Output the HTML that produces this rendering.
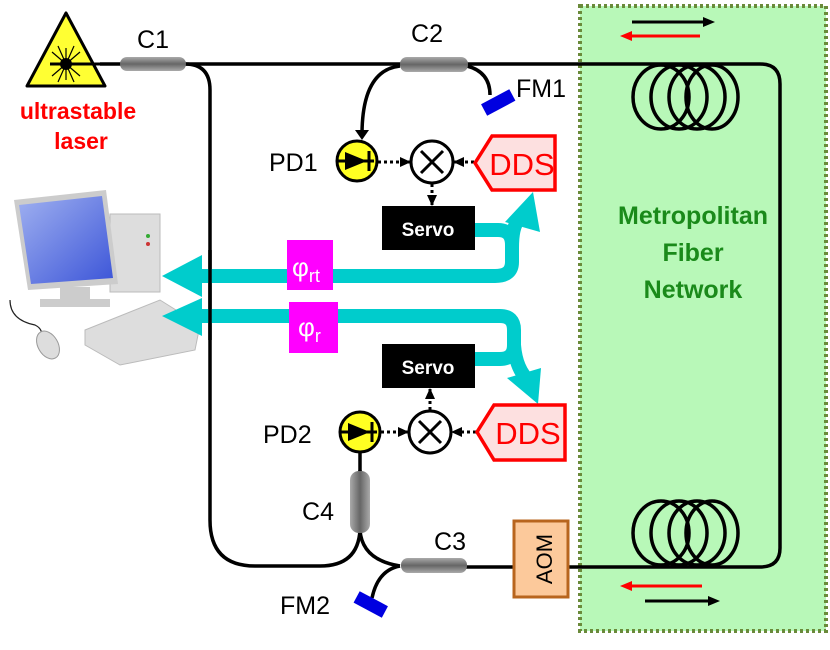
<!DOCTYPE html>
<html><head><style>body{margin:0;background:#fff}svg{display:block}text{font-family:"Liberation Sans",Arial,sans-serif}</style></head><body>
<svg width="830" height="650" viewBox="0 0 830 650" xmlns="http://www.w3.org/2000/svg">
<defs>
<linearGradient id="cg" x1="0" y1="0" x2="0" y2="1"><stop offset="0" stop-color="#aaa"/><stop offset=".5" stop-color="#666"/><stop offset="1" stop-color="#aaa"/></linearGradient>
<linearGradient id="cgv" x1="0" y1="0" x2="1" y2="0"><stop offset="0" stop-color="#aaa"/><stop offset=".5" stop-color="#666"/><stop offset="1" stop-color="#aaa"/></linearGradient>
<linearGradient id="scr" x1="0" y1="0" x2="1" y2="1"><stop offset="0" stop-color="#9fb0f0"/><stop offset="1" stop-color="#3c55d8"/></linearGradient>
<marker id="ah" markerUnits="userSpaceOnUse" markerWidth="12" markerHeight="12" refX="10" refY="6" orient="auto"><path d="M0,1L11,6L0,11z" fill="#000"/></marker>
</defs>
<rect x="580" y="6" width="246" height="625" fill="#b8f8b8" stroke="#6a8a3a" stroke-width="4" stroke-dasharray="3,3"/>
<text x="693" y="224" font-size="25" font-weight="bold" fill="#1a8a1a" text-anchor="middle">Metropolitan</text>
<text x="693" y="261" font-size="25" font-weight="bold" fill="#1a8a1a" text-anchor="middle">Fiber</text>
<text x="693" y="298" font-size="25" font-weight="bold" fill="#1a8a1a" text-anchor="middle">Network</text>
<g fill="none" stroke="#000" stroke-width="3.5">
<path d="M100,64 H760 Q780,64 780,84 V548 Q780,567 760,567 H460"/>
<path d="M185,64 Q210,64 210,90 V520 Q210,566 255,566 H320 Q358,566 360,530 V470"/>
<path d="M360,530 Q362,560 400,566"/>
<path d="M400,566 Q378,570 372,598"/>
<path d="M400,66 Q362,70 362,135" />
<path d="M467,66 Q490,72 490,95"/>
<ellipse cx="661" cy="97" rx="28" ry="32"/><ellipse cx="679" cy="97" rx="28" ry="32"/><ellipse cx="697" cy="97" rx="28" ry="32"/><ellipse cx="712" cy="97" rx="26" ry="32"/>
<ellipse cx="661" cy="533" rx="28" ry="32"/><ellipse cx="679" cy="533" rx="28" ry="32"/><ellipse cx="697" cy="533" rx="28" ry="32"/><ellipse cx="712" cy="533" rx="26" ry="32"/>
<path d="M360,452 V472"/>
</g>
<path d="M362,140 l-7,-10 h14z" fill="#000"/>
<g stroke-width="3"><line x1="632" y1="22" x2="705" y2="22" stroke="#000"/><path d="M703,17 L715,22 L703,27z"/>
<line x1="630" y1="36" x2="700" y2="36" stroke="#f00"/><path d="M632,31 L620,36 L632,41z" fill="#f00"/>
<line x1="630" y1="586" x2="702" y2="586" stroke="#f00"/><path d="M632,581 L620,586 L632,591z" fill="#f00"/>
<line x1="645" y1="601" x2="710" y2="601" stroke="#000"/><path d="M708,596 L720,601 L708,606z"/></g>
<rect x="120" y="57" width="66" height="14" rx="7" fill="url(#cg)"/>
<rect x="400" y="57" width="68" height="15" rx="7" fill="url(#cg)"/>
<rect x="401" y="558" width="66" height="15" rx="7" fill="url(#cg)"/>
<rect x="350" y="471" width="20" height="62" rx="9" fill="url(#cgv)"/>
<text x="153" y="48" font-size="25" text-anchor="middle">C1</text>
<text x="427" y="42" font-size="25" text-anchor="middle">C2</text>
<text x="450" y="550" font-size="25" text-anchor="middle">C3</text>
<text x="318" y="520" font-size="25" text-anchor="middle">C4</text>
<text x="516" y="97" font-size="25">FM1</text>
<text x="280" y="614" font-size="25">FM2</text>
<rect x="482" y="96" width="32" height="13" fill="#0000e0" transform="rotate(-28 498 102)"/>
<rect x="355" y="598" width="32" height="13" fill="#0000e0" transform="rotate(28 371 604)"/>
<rect x="514" y="521" width="54" height="76" fill="#fcc99b" stroke="#b8651e" stroke-width="3"/>
<text transform="translate(552,559) rotate(-90)" font-size="22" text-anchor="middle">AOM</text>
<path d="M66,13 L105,86 L27,86z" fill="#ffff33" stroke="#000" stroke-width="3" stroke-linejoin="round"/>
<g stroke="#000" stroke-width="1.2"><line x1="50" y1="64" x2="80" y2="64" stroke-width="3"/>
<line x1="66" y1="48" x2="66" y2="80"/><line x1="52" y1="52" x2="80" y2="76"/><line x1="80" y1="52" x2="52" y2="76"/><line x1="58" y1="46" x2="74" y2="82"/><line x1="74" y1="46" x2="58" y2="82"/></g>
<circle cx="66" cy="64" r="6" fill="#000"/>
<line x1="80" y1="64" x2="110" y2="64" stroke="#000" stroke-width="3"/>
<text x="78" y="119" font-size="23" font-weight="bold" fill="#f00" text-anchor="middle">ultrastable</text>
<text x="81" y="149" font-size="23" font-weight="bold" fill="#f00" text-anchor="middle">laser</text>
<rect x="110" y="214" width="50" height="78" fill="#ddd" stroke="#bbb"/>
<circle cx="148" cy="236" r="2" fill="#3a3"/><circle cx="148" cy="244" r="2" fill="#c33"/>
<path d="M14,200 L106,190 L118,284 L28,290z" fill="#ccc"/>
<path d="M19,205 L102,196 L113,278 L31,284z" fill="url(#scr)"/>
<path d="M60,287 h30 v12 h20 v8 h-70 v-8 h20z" fill="#ccc"/>
<path d="M10,300 q0,20 25,25 q10,5 5,15" fill="none" stroke="#222" stroke-width="1.2"/>
<path d="M85,330 L160,300 L200,325 L195,350 L120,365 L85,345z" fill="#ddd" stroke="#bbb"/>
<ellipse cx="48" cy="345" rx="10" ry="15" fill="#ddd" stroke="#999" transform="rotate(-30 48 345)"/>
<g fill="none" stroke="#00cccc" stroke-width="14">
<path d="M475,230 H498 Q512,230 512,245 V262 Q512,276 495,276 H185"/>
<path d="M512,248 Q512,225 520,218"/>
<path d="M185,316 H500 Q514,316 514,330 V345 Q514,359 500,359 H475"/>
<path d="M514,345 Q516,370 530,382"/>
</g>
<path d="M533,192 L540,232 L505,222z" fill="#00cccc"/>
<path d="M162,276 L202,255 L202,297z" fill="#00cccc"/>
<path d="M162,316 L202,298 L202,336z" fill="#00cccc"/>
<path d="M538,404 L541,368 L507,378z" fill="#00cccc"/>
<line x1="210" y1="250" x2="210" y2="340" stroke="#000" stroke-width="3.5"/>
<rect x="287" y="240" width="46" height="50" fill="#ff00ff"/>
<text x="292" y="276" font-size="26" fill="#fff">φ<tspan font-size="18" dy="6">rt</tspan></text>
<rect x="289" y="302" width="49" height="51" fill="#ff00ff"/>
<text x="298" y="336" font-size="26" fill="#fff">φ<tspan font-size="18" dy="6">r</tspan></text>
<rect x="382" y="206" width="93" height="44" fill="#000"/>
<text x="428" y="236" font-size="19" font-weight="bold" fill="#fff" text-anchor="middle">Servo</text>
<rect x="382" y="344" width="93" height="44" fill="#000"/>
<text x="428" y="374" font-size="19" font-weight="bold" fill="#fff" text-anchor="middle">Servo</text>
<g stroke="#000" stroke-width="3">
<circle cx="357" cy="161" r="20" fill="#ffff22"/>
<circle cx="360" cy="432" r="20" fill="#ffff22"/>
<circle cx="432" cy="162" r="21" fill="#fff"/>
<circle cx="430" cy="432" r="21" fill="#fff"/>
<path d="M421,151 l22,22 M443,151 l-22,22 M419,421 l22,22 M441,421 l-22,22"/>
</g>
<path d="M345,152 L367,161 L345,170z M348,423 L370,432 L348,441z" fill="#000"/>
<path d="M369,151 v20 M372,422 v20 M338,161 h36 M341,432 h36" stroke="#000" stroke-width="3"/>
<g stroke="#000" stroke-width="3" stroke-dasharray="3,3" fill="none">
<line x1="378" y1="162" x2="410" y2="162" marker-end="url(#ah)"/>
<line x1="474" y1="162" x2="454" y2="162" marker-end="url(#ah)"/>
<line x1="432" y1="184" x2="432" y2="205" marker-end="url(#ah)"/>
<line x1="381" y1="432" x2="408" y2="432" marker-end="url(#ah)"/>
<line x1="476" y1="432" x2="452" y2="432" marker-end="url(#ah)"/>
<line x1="430" y1="410" x2="430" y2="389" marker-end="url(#ah)"/>
</g>
<path d="M475,163 L492,136 H555 V190 H492z" fill="#fde0e0" stroke="#f00" stroke-width="3.5"/>
<text x="522" y="175" font-size="31" fill="#f00" text-anchor="middle">DDS</text>
<path d="M477,432 L494,405 H565 V460 H494z" fill="#fde0e0" stroke="#f00" stroke-width="3.5"/>
<text x="528" y="444" font-size="31" fill="#f00" text-anchor="middle">DDS</text>
<text x="269" y="171" font-size="25">PD1</text>
<text x="263" y="443" font-size="25">PD2</text>
</svg>
</body></html>
